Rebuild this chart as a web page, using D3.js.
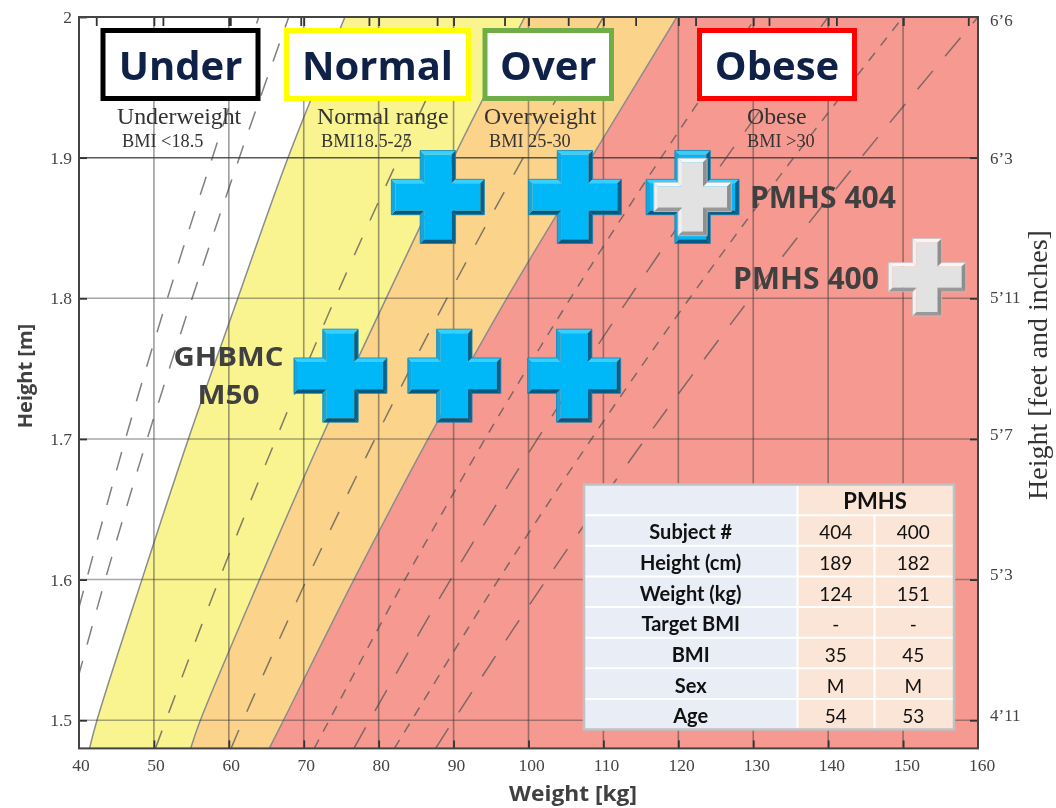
<!DOCTYPE html>
<html>
<head>
<meta charset="utf-8">
<script src="https://cdn.jsdelivr.net/npm/d3@7"></script>
<style>
  html, body { margin: 0; background: #fff; }
  svg { display: block; filter: blur(0.4px); }
  .serif { font-family: "Liberation Serif", serif; }
  .sans { font-family: "Open Sans", sans-serif; font-weight: 700; }
  .tbl { font-family: "Lato", sans-serif; fill: #111; }
</style>
</head>
<body>
<div id="container"></div>
<script>
// axis ticks
const weightTicks = [40, 50, 60, 70, 80, 90, 100, 110, 120, 130, 140, 150, 160];
const heightTicks = [1.5, 1.6, 1.7, 1.8, 1.9, 2];
const poundTicksKg = [42.3, 51.2, 60.2, 69.6, 78.7, 87.8, 96.8, 105.3, 114.3, 122.3, 132.1, 141.1, 150, 158.7];
const feetLabels = ["6’6", "6’3", "5’11", "5’7", "5’3", "4’11"];
const feetLabelHeights = [1.997, 1.899, 1.8, 1.703, 1.603, 1.503];

// curves read at these heights (m), values are weights (kg)
const curveHeights = [1.48, 1.5, 1.6, 1.7, 1.8, 1.9, 2.0];
const underLimit = [41.4, 42.4, 48.4, 54.6, 61.2, 67.9, 75.5];
const normalLimit = [54.9, 56.2, 64.1, 72.3, 81, 90, 99.5];
const overLimit = [65.4, 67.3, 76.7, 86.6, 97.1, 108.4, 119.8];
const bmi16 = [35, 36, 41, 46.2, 51.8, 57.8, 64];
const bmi17 = [37.2, 38.3, 43.5, 49.1, 55.1, 61.4, 68];
const bmi23 = [50.2, 51.6, 58.7, 66.3, 74.2, 82.7, 91.6];
const bmi27 = [60.3, 61.9, 70.4, 79.5, 89.1, 99.3, 110];
const bmi33 = [71.4, 73.4, 83.5, 94.2, 105.6, 117.7, 130.4];
const bmi35 = [76.7, 78.8, 89.6, 101.2, 113.4, 126.4, 140];
const bmi37 = [82.1, 84.4, 96, 108.4, 121.5, 135.4, 150];
const bmi40 = [87.6, 90, 102.4, 115.6, 129.6, 144.4, 160];

// subjects
const modelWeights = [74.9, 90.1, 106.1, 87.9, 106.2, 121.9];
const modelHeights = [1.745, 1.745, 1.745, 1.872, 1.872, 1.872];
const pmhsWeights = [121.9, 153.2];
const pmhsHeights = [1.872, 1.815];

// table
const tableRows = ["", "Subject #", "Height (cm)", "Weight (kg)", "Target BMI", "BMI", "Sex", "Age"];
const pmhs404 = ["404", "189", "124", "-", "35", "M", "54"];
const pmhs400 = ["400", "182", "151", "-", "45", "M", "53"];

// category headers
const headerWords = ["Under", "Normal", "Over", "Obese"];
const headerColors = ["#000000", "#ffff00", "#70ad47", "#ff0000"];
const headerLeft = [100.5, 284, 482.5, 697];
const headerRight = [260.5, 471, 614, 857];
const rangeNames = ["Underweight", "Normal range", "Overweight", "Obese"];
const rangeBmi = ["BMI <18.5", "BMI18.5-25", "BMI 25-30", "BMI >30"];
const rangeNameX = [117, 317, 484, 747];
const rangeBmiX = [122, 321, 489, 747];

const width = 1056;
const height = 808;

const svg = d3.select("#container").append("svg")
  .attr("width", width)
  .attr("height", height);

const x = d3.scaleLinear().domain([40, 160]).range([79, 978]);
const y = d3.scaleLinear().domain([1.48, 2]).range([748.4, 17]);
const xLabel = d3.scaleLinear().domain([40, 160]).range([81, 982]);

svg.append("clipPath").attr("id", "plot")
  .append("rect")
  .attr("x", x(40)).attr("y", y(2))
  .attr("width", x(160) - x(40)).attr("height", y(1.48) - y(2));

const plot = svg.append("g").attr("clip-path", "url(#plot)");

// BMI bands
const band = (lower, upper) => d3.area()
  .curve(d3.curveCatmullRom)
  .y(d => y(d))
  .x0((d, i) => x(lower[i]))
  .x1((d, i) => x(upper ? upper[i] : 160))(curveHeights);

plot.append("path").attr("d", band(underLimit, normalLimit)).attr("fill", "#f9f390");
plot.append("path").attr("d", band(normalLimit, overLimit)).attr("fill", "#fcd38b");
plot.append("path").attr("d", band(overLimit, null)).attr("fill", "#f69a91");

const curve = weights => d3.line()
  .curve(d3.curveCatmullRom)
  .x((d, i) => x(weights[i]))
  .y(d => y(d))(curveHeights);

[underLimit, normalLimit, overLimit].forEach(w => {
  plot.append("path")
    .attr("d", curve(w))
    .attr("fill", "none")
    .attr("stroke", "#8c8c8c")
    .attr("stroke-width", 1.5);
});

// dashed BMI guide lines
const guideLines = [
  { w: bmi16, dash: "19 17" },
  { w: bmi17, dash: "19 17" },
  { w: bmi23, dash: "19 19" },
  { w: bmi27, dash: "20 20" },
  { w: bmi33, dash: "10 9" },
  { w: bmi35, dash: "24 19" },
  { w: bmi37, dash: "10 9" },
  { w: bmi40, dash: "24 19" }
];
guideLines.forEach(d => {
  plot.append("path")
    .attr("d", curve(d.w))
    .attr("fill", "none")
    .attr("stroke", "#555")
    .attr("stroke-opacity", 0.75)
    .attr("stroke-width", 1.5)
    .attr("stroke-dasharray", d.dash);
});

// grid
plot.selectAll("line.vgrid")
  .data(weightTicks.slice(1, -1))
  .enter().append("line")
  .attr("class", "vgrid")
  .attr("x1", d => x(d)).attr("x2", d => x(d))
  .attr("y1", y(2)).attr("y2", y(1.48))
  .attr("stroke", "#3c3c3c").attr("stroke-opacity", 0.5).attr("stroke-width", 1.6);

plot.selectAll("line.hgrid")
  .data(heightTicks.slice(0, -1))
  .enter().append("line")
  .attr("class", "hgrid")
  .attr("x1", x(40)).attr("x2", x(160))
  .attr("y1", d => y(d)).attr("y2", d => y(d))
  .attr("stroke", "#3c3c3c")
  .attr("stroke-opacity", d => d === 1.9 ? 0.85 : 0.45)
  .attr("stroke-width", 1.5);

// axes
function styleAxis(g) {
  g.select(".domain").remove();
  g.selectAll(".tick line").attr("stroke", "#333").attr("stroke-width", 1.8);
  g.selectAll("text")
    .attr("class", "serif")
    .style("font-size", "17.5px")
    .attr("fill", "#444");
}

svg.append("g")
  .attr("transform", `translate(0,${y(1.48)})`)
  .call(d3.axisBottom(x).tickValues(weightTicks.slice(1, -1)).tickSizeInner(-8).tickFormat(""))
  .call(styleAxis);

svg.append("g")
  .attr("transform", `translate(0,${y(2)})`)
  .call(d3.axisTop(x).tickValues(weightTicks.slice(1, -1).concat(poundTicksKg)).tickSizeInner(-9).tickFormat(""))
  .call(styleAxis);

svg.append("g")
  .selectAll("text")
  .data(weightTicks)
  .enter().append("text")
  .attr("class", "serif")
  .attr("x", d => xLabel(d))
  .attr("y", 771)
  .attr("text-anchor", "middle")
  .attr("fill", "#444")
  .style("font-size", "17.5px")
  .text(d => d);

svg.append("g")
  .attr("transform", `translate(${x(40)},0)`)
  .call(d3.axisLeft(y).tickValues(heightTicks).tickSizeInner(-8).tickPadding(7).tickFormat(d => String(d)))
  .call(styleAxis);

svg.append("g")
  .attr("transform", `translate(${x(160)},0)`)
  .call(d3.axisRight(y).tickValues(heightTicks.slice(0, -1)).tickSizeInner(-8).tickFormat(""))
  .call(styleAxis);

svg.append("g")
  .selectAll("text")
  .data(feetLabels)
  .enter().append("text")
  .attr("class", "serif")
  .attr("x", 990)
  .attr("y", (d, i) => y(feetLabelHeights[i]) + 5)
  .attr("fill", "#444")
  .style("font-size", "17px")
  .text(d => d);

svg.append("rect")
  .attr("x", x(40)).attr("y", y(2))
  .attr("width", x(160) - x(40)).attr("height", y(1.48) - y(2))
  .attr("fill", "none")
  .attr("stroke", "#444")
  .attr("stroke-width", 2);

// axis titles
svg.append("text").attr("class", "sans")
  .attr("x", 573).attr("y", 801)
  .attr("text-anchor", "middle").attr("fill", "#404040")
  .attr("textLength", 128).attr("lengthAdjust", "spacingAndGlyphs")
  .style("font-size", "21px").text("Weight [kg]");

svg.append("text").attr("class", "sans")
  .attr("transform", "translate(32,376) rotate(-90)")
  .attr("text-anchor", "middle").attr("fill", "#404040")
  .style("font-size", "20px").text("Height [m]");

svg.append("text").attr("class", "serif")
  .attr("transform", "translate(1047,365) rotate(-90)")
  .attr("text-anchor", "middle").attr("fill", "#333")
  .style("font-size", "28px").text("Height [feet and inches]");

// header boxes
headerWords.forEach((word, i) => {
  svg.append("rect")
    .attr("x", headerLeft[i] + 2.5).attr("y", 30.5)
    .attr("width", headerRight[i] - headerLeft[i] - 5).attr("height", 68)
    .attr("fill", "#fff")
    .attr("stroke", headerColors[i])
    .attr("stroke-width", 5);
  svg.append("text").attr("class", "sans")
    .attr("x", (headerLeft[i] + headerRight[i]) / 2).attr("y", 80)
    .attr("text-anchor", "middle").attr("fill", "#0f2147")
    .style("font-size", "40px").text(word);
  svg.append("text").attr("class", "serif")
    .attr("x", rangeNameX[i]).attr("y", 124)
    .attr("fill", "#333").style("font-size", "23.8px").text(rangeNames[i]);
  svg.append("text").attr("class", "serif")
    .attr("x", rangeBmiX[i]).attr("y", 147)
    .attr("fill", "#333").style("font-size", "18.3px").text(rangeBmi[i]);
});

// bevelled plus markers
function plusPoints(s, a) {
  return [[-a, -s], [a, -s], [a, -a], [s, -a], [s, a], [a, a], [a, s], [-a, s], [-a, a], [-s, a], [-s, -a], [-a, -a]];
}

function drawPlus(cx, cy, s, a, colors) {
  const outer = plusPoints(s, a);
  const inner = plusPoints(s - 4, a - 4);
  const g = svg.append("g").attr("transform", `translate(${cx},${cy})`);
  g.append("polygon")
    .attr("points", inner.join(" "))
    .attr("fill", colors.face);
  outer.forEach((p, i) => {
    const j = (i + 1) % outer.length;
    const q = outer[j];
    let c = colors.top;
    if (p[1] === q[1] && p[0] > q[0]) c = colors.bottom;
    if (p[0] === q[0]) c = q[1] > p[1] ? colors.right : colors.left;
    g.append("polygon")
      .attr("points", [p, q, inner[j], inner[i]].join(" "))
      .attr("fill", c);
  });
  g.append("polygon")
    .attr("points", outer.join(" "))
    .attr("fill", "none")
    .attr("stroke", colors.edge)
    .attr("stroke-width", 0.8);
}

const blue = { face: "#00b8f8", top: "#35d0ff", left: "#14a6de", right: "#04618c", bottom: "#03597f", edge: "#0a86b8" };
const grey = { face: "#e2e2e2", top: "#f6f6f6", left: "#f0f0f0", right: "#8e8e8e", bottom: "#999", edge: "#c4c4c4" };

modelWeights.forEach((w, i) => drawPlus(x(w), y(modelHeights[i]), 46.5, 17.7, blue));
pmhsWeights.forEach((w, i) => drawPlus(x(w), y(pmhsHeights[i]), 38.7, 14.6, grey));

// subject labels
const labelStyle = sel => sel.attr("class", "sans").attr("fill", "#404040").style("font-size", "30px");
svg.append("text").call(labelStyle).attr("x", 750).attr("y", 208).text("PMHS 404");
svg.append("text").call(labelStyle).attr("x", 733).attr("y", 289).text("PMHS 400");

// two lines, kept just under the line box height so they don't collide
const modelLabelStyle = sel => sel.attr("class", "sans").attr("fill", "#404040")
  .attr("text-anchor", "middle").attr("lengthAdjust", "spacingAndGlyphs").style("font-size", "27px");
svg.append("text").call(modelLabelStyle).attr("x", 228.5).attr("y", 366).attr("textLength", 110).text("GHBMC");
svg.append("text").call(modelLabelStyle).attr("x", 228.5).attr("y", 404).attr("textLength", 62).text("M50");

// table
const rowY = d3.scaleBand().domain(d3.range(tableRows.length)).range([484.5, 729.5]);
const colX = [584, 797.5, 874.5, 954];

const table = svg.append("g");
table.append("rect")
  .attr("x", colX[0]).attr("y", 484.5)
  .attr("width", colX[1] - colX[0]).attr("height", 245)
  .attr("fill", "#e8edf6");
table.append("rect")
  .attr("x", colX[1]).attr("y", 484.5)
  .attr("width", colX[3] - colX[1]).attr("height", 245)
  .attr("fill", "#fbe5d6");

table.selectAll("line.row")
  .data(d3.range(1, tableRows.length))
  .enter().append("line")
  .attr("class", "row")
  .attr("x1", colX[0]).attr("x2", colX[3])
  .attr("y1", d => rowY(d)).attr("y2", d => rowY(d))
  .attr("stroke", "#fff").attr("stroke-width", 2);

table.append("line")
  .attr("x1", colX[1]).attr("x2", colX[1])
  .attr("y1", 484.5).attr("y2", 729.5)
  .attr("stroke", "#fff").attr("stroke-width", 2);
table.append("line")
  .attr("x1", colX[2]).attr("x2", colX[2])
  .attr("y1", rowY(1)).attr("y2", 729.5)
  .attr("stroke", "#fff").attr("stroke-width", 2);

table.append("rect")
  .attr("x", colX[0]).attr("y", 484.5)
  .attr("width", colX[3] - colX[0]).attr("height", 245)
  .attr("fill", "none")
  .attr("stroke", "#bfc1c4")
  .attr("stroke-width", 2.5);

const rowText = (cx, r, str, bold, size) => table.append("text")
  .attr("class", "tbl")
  .attr("x", cx)
  .attr("y", rowY(r) + rowY.bandwidth() / 2 + 9)
  .attr("text-anchor", "middle")
  .style("font-size", size + "px")
  .style("font-weight", bold ? 700 : 400)
  .text(str);

tableRows.forEach((label, i) => { if (label) rowText(690.7, i, label, true, 20); });
rowText(875, 0, "PMHS", true, 22);
pmhs404.forEach((v, i) => rowText(835.7, i + 1, v, false, 19));
pmhs400.forEach((v, i) => rowText(913.3, i + 1, v, false, 19));
</script>
</body>
</html>
